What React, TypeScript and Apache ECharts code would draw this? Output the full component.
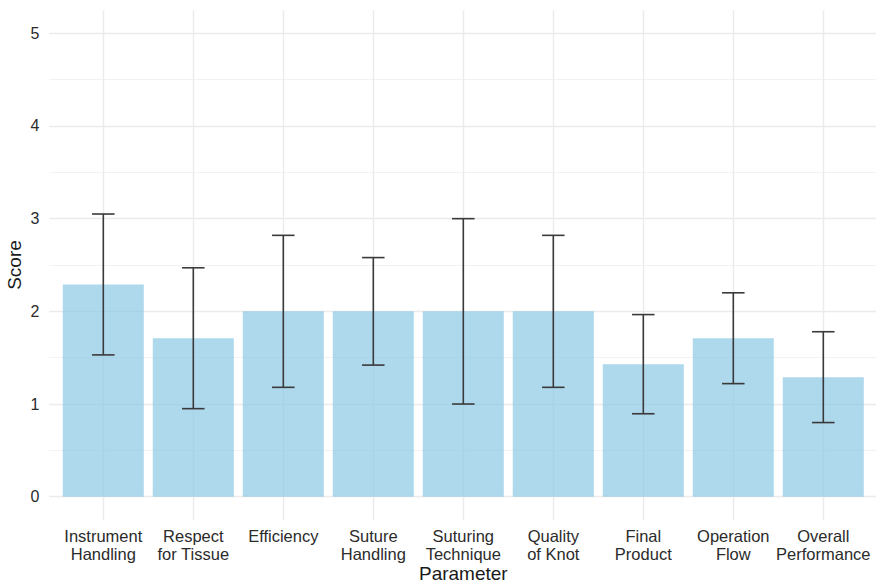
import React, { useEffect, useRef } from "react";
import * as echarts from "echarts";

// Mean assessment scores with ±1 SD per parameter
const categories = [
  "Instrument\nHandling",
  "Respect\nfor Tissue",
  "Efficiency",
  "Suture\nHandling",
  "Suturing\nTechnique",
  "Quality\nof Knot",
  "Final\nProduct",
  "Operation\nFlow",
  "Overall\nPerformance",
];
const meanScores = [2.29, 1.71, 2.0, 2.0, 2.0, 2.0, 1.43, 1.71, 1.29];
const sdScores = [0.76, 0.76, 0.82, 0.58, 1.0, 0.82, 0.535, 0.49, 0.49];
const yTicks = [0, 1, 2, 3, 4, 5];

const FONT = "'Liberation Sans', Arial, Helvetica, sans-serif";

export default function App() {
  const ref = useRef<HTMLDivElement>(null);

  useEffect(() => {
    if (!ref.current) return;
    const chart = echarts.init(ref.current, undefined, { renderer: "svg" });

    const errData = meanScores.map((m, i) => [i, m - sdScores[i], m + sdScores[i]]);

    const panelLeft = 49.3;
    const bandLeft = 58.3;
    const bandRight = 7.7;

    chart.setOption({
      animation: false,
      backgroundColor: "#ffffff",
      grid: [
        // horizontal grid + y labels
        { left: panelLeft, right: 0, top: 33.3, bottom: 87.3, outerBoundsMode: "none" },
        // vertical grid + x labels (full panel height)
        { left: bandLeft, right: bandRight, top: 10, bottom: 64, outerBoundsMode: "none" },
        // bars
        { left: bandLeft, right: bandRight, top: 33.3, bottom: 87.3, outerBoundsMode: "none" },
      ],
      xAxis: [
        { gridIndex: 0, type: "value", min: 0, max: 1, show: false },
        {
          gridIndex: 1,
          type: "category",
          data: categories,
          axisLine: { show: false },
          axisTick: { show: false },
          axisLabel: {
            margin: 7,
            color: "#2b2b2b",
            fontSize: 16.5,
            lineHeight: 18,
            fontFamily: FONT,
            interval: 0,
          },
          splitLine: {
            show: true,
            alignWithLabel: true,
            lineStyle: { color: "#ebebeb", width: 1.4 },
          },
          name: "Parameter",
          nameLocation: "middle",
          nameGap: 44,
          nameMoveOverlap: false,
          nameTextStyle: { color: "#1a1a1a", fontSize: 19, fontFamily: FONT },
        },
        { gridIndex: 2, type: "category", data: categories, show: false },
      ],
      yAxis: [
        {
          gridIndex: 0,
          type: "value",
          min: yTicks[0],
          max: yTicks[yTicks.length - 1],
          interval: 1,
          axisLine: { show: false },
          axisTick: { show: false },
          axisLabel: {
            margin: 10,
            color: "#2b2b2b",
            fontSize: 16,
            fontFamily: FONT,
          },
          splitLine: { show: true, lineStyle: { color: "#ebebeb", width: 1.4 } },
          minorTick: { show: false, splitNumber: 2 },
          minorSplitLine: { show: true, lineStyle: { color: "#f0f0f0", width: 0.9 } },
          name: "Score",
          nameLocation: "middle",
          nameGap: 25,
          nameMoveOverlap: false,
          nameTextStyle: { color: "#1a1a1a", fontSize: 19, fontFamily: FONT },
        },
        { gridIndex: 1, type: "value", min: 0, max: 1, show: false },
        { gridIndex: 2, type: "value", min: 0, max: 5, show: false },
      ],
      series: [
        {
          type: "bar",
          xAxisIndex: 2,
          yAxisIndex: 2,
          data: meanScores,
          barWidth: "90%",
          itemStyle: { color: "rgba(140,200,228,0.7)" },
        },
        {
          type: "custom",
          xAxisIndex: 2,
          yAxisIndex: 2,
          data: errData,
          z: 5,
          renderItem: (params: any, api: any) => {
            const x = api.value(0);
            const lo = api.coord([x, api.value(1)]);
            const hi = api.coord([x, api.value(2)]);
            const hw = api.size([1, 0])[0] * 0.125;
            const style = { stroke: "#3a3a3a", lineWidth: 1.6 };
            return {
              type: "group",
              children: [
                { type: "line", shape: { x1: lo[0], y1: lo[1], x2: hi[0], y2: hi[1] }, style },
                { type: "line", shape: { x1: hi[0] - hw, y1: hi[1], x2: hi[0] + hw, y2: hi[1] }, style },
                { type: "line", shape: { x1: lo[0] - hw, y1: lo[1], x2: lo[0] + hw, y2: lo[1] }, style },
              ],
            };
          },
        },
      ],
    });

    return () => chart.dispose();
  }, []);

  return (
    <div
      ref={ref}
      style={{ position: "fixed", left: 0, top: 0, width: 876, height: 584 }}
    />
  );
}
